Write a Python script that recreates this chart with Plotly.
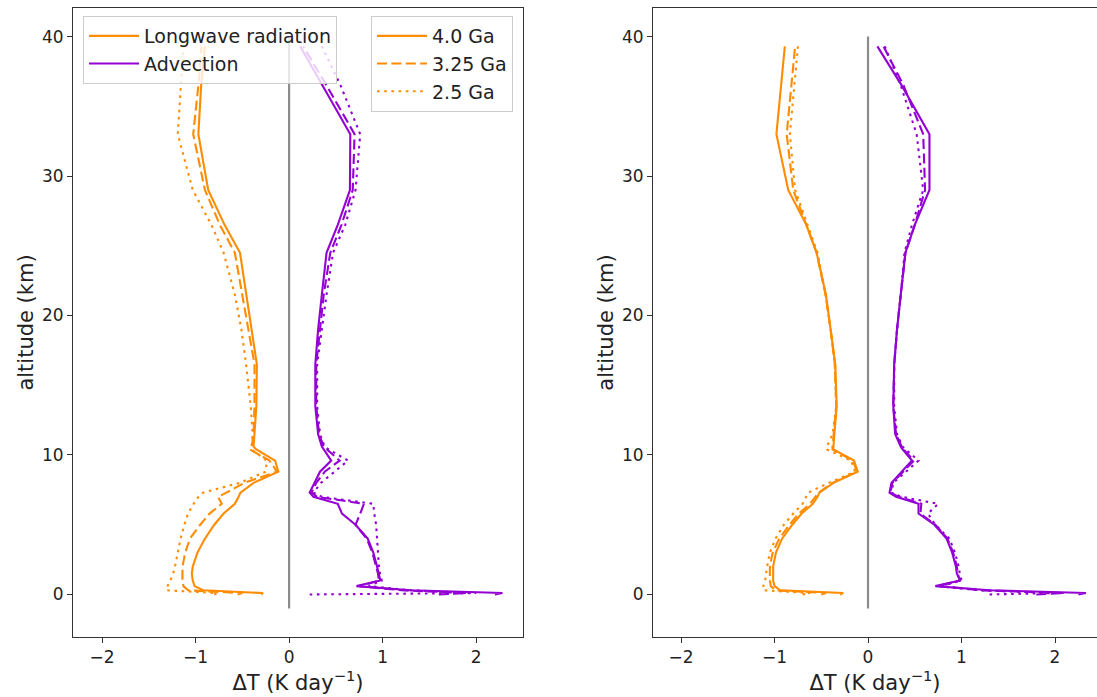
import plotly.graph_objects as go

# Altitude levels (km) shared by every profile
altitude = [0.0, 0.1, 0.3, 0.6, 1.0, 1.5, 2.0, 3.0, 4.0, 5.0, 5.8, 6.5, 7.0, 7.3,
            8.0, 8.8, 9.6, 10.4, 10.6, 11.5, 13.5, 16.5, 19.0, 21.5, 24.5, 26.5,
            29.0, 33.0, 36.5, 39.3]

# Left panel: heating-rate profiles (K/day)
lw_40_left = [-0.30, -0.28, -0.92, -1.01, -1.03, -1.04, -1.03, -0.98, -0.90, -0.80,
              -0.70, -0.58, -0.54, -0.52, -0.38, -0.115, -0.15, -0.35, -0.38, -0.37,
              -0.35, -0.345, -0.40, -0.46, -0.525, -0.69, -0.865, -0.97, -0.94, -0.90]
lw_325_left = [-0.55, -0.50, -1.08, -1.13, -1.14, -1.14, -1.14, -1.11, -1.06, -0.95,
               -0.85, -0.72, -0.76, -0.67, -0.48, -0.13, -0.21, -0.42, -0.40, -0.38,
               -0.37, -0.37, -0.436, -0.50, -0.58, -0.74, -0.90, -1.025, -0.97, -0.935]
lw_25_left = [-0.80, -0.77, -1.31, -1.30, -1.27, -1.24, -1.22, -1.19, -1.16, -1.12,
              -1.08, -1.02, -0.97, -0.92, -0.53, -0.25, -0.24, -0.40, -0.40, -0.39,
              -0.41, -0.46, -0.51, -0.58, -0.70, -0.83, -1.03, -1.19, -1.16, -1.13]
adv_40_left = [2.20, 2.28, 1.30, 0.72, 0.975, 0.96, 0.94, 0.90, 0.84, 0.71,
               0.565, 0.52, 0.26, 0.22, 0.27, 0.33, 0.45, 0.37, 0.35, 0.31,
               0.28, 0.28, 0.31, 0.35, 0.40, 0.52, 0.65, 0.654, 0.36, 0.118]
adv_325_left = [1.60, 1.90, 1.20, 0.75, 0.96, 0.95, 0.93, 0.89, 0.83, 0.71,
                0.76, 0.80, 0.30, 0.24, 0.29, 0.38, 0.54, 0.40, 0.37, 0.32,
                0.29, 0.29, 0.33, 0.37, 0.44, 0.56, 0.68, 0.70, 0.40, 0.15]
adv_25_left = [0.22, 2.00, 1.30, 0.85, 0.99, 0.97, 0.96, 0.95, 0.94, 0.93,
               0.91, 0.90, 0.35, 0.26, 0.34, 0.48, 0.63, 0.42, 0.38, 0.33,
               0.30, 0.30, 0.35, 0.40, 0.47, 0.60, 0.71, 0.76, 0.55, 0.35]

# Right panel: heating-rate profiles (K/day)
lw_40_right = [-0.30, -0.265, -0.94, -1.00, -1.015, -1.015, -1.015, -0.985, -0.92, -0.81,
               -0.71, -0.59, -0.54, -0.52, -0.37, -0.11, -0.15, -0.37, -0.37, -0.36,
               -0.335, -0.35, -0.40, -0.45, -0.55, -0.66, -0.854, -0.98, -0.93, -0.89]
lw_325_right = [-0.50, -0.45, -0.99, -1.04, -1.05, -1.05, -1.05, -1.02, -0.95, -0.84,
                -0.74, -0.62, -0.56, -0.53, -0.38, -0.12, -0.16, -0.38, -0.38, -0.37,
                -0.34, -0.355, -0.40, -0.455, -0.55, -0.66, -0.80, -0.87, -0.82, -0.78]
lw_25_right = [-0.70, -0.62, -1.12, -1.12, -1.10, -1.09, -1.08, -1.05, -0.99, -0.90,
               -0.80, -0.70, -0.66, -0.64, -0.42, -0.14, -0.18, -0.44, -0.44, -0.38,
               -0.34, -0.355, -0.40, -0.455, -0.54, -0.65, -0.78, -0.836, -0.79, -0.75]
adv_40_right = [2.25, 2.33, 1.30, 0.72, 0.985, 0.95, 0.94, 0.90, 0.84, 0.71,
                0.54, 0.54, 0.30, 0.23, 0.25, 0.36, 0.47, 0.37, 0.35, 0.29,
                0.27, 0.28, 0.31, 0.35, 0.40, 0.50, 0.657, 0.657, 0.36, 0.10]
adv_325_right = [1.80, 2.10, 1.20, 0.75, 0.98, 0.96, 0.95, 0.91, 0.85, 0.72,
                 0.56, 0.57, 0.33, 0.24, 0.26, 0.37, 0.49, 0.38, 0.36, 0.30,
                 0.27, 0.28, 0.31, 0.35, 0.40, 0.50, 0.61, 0.59, 0.38, 0.165]
adv_25_right = [1.30, 2.00, 1.20, 0.78, 1.00, 0.98, 0.97, 0.93, 0.87, 0.72,
                0.64, 0.75, 0.36, 0.25, 0.27, 0.40, 0.54, 0.40, 0.37, 0.31,
                0.28, 0.28, 0.31, 0.35, 0.39, 0.47, 0.59, 0.52, 0.35, 0.18]

# Zero reference line
zero_x = [0, 0]
zero_y = [-1, 40]

x_ticks = [-2, -1, 0, 1, 2]
y_ticks = [0, 10, 20, 30, 40]

ORANGE = "#FF8C00"
PURPLE = "#9400D3"
LW = 2.1
DASHES = {"4.0 Ga": "solid", "3.25 Ga": "10px,4.4px", "2.5 Ga": "2.6px,4.6px"}
FONT = "DejaVu Sans"
W, H = 1097, 697

panels = [
    ("x", "y", {"4.0 Ga": (lw_40_left, adv_40_left),
                "3.25 Ga": (lw_325_left, adv_325_left),
                "2.5 Ga": (lw_25_left, adv_25_left)}),
    ("x2", "y2", {"4.0 Ga": (lw_40_right, adv_40_right),
                  "3.25 Ga": (lw_325_right, adv_325_right),
                  "2.5 Ga": (lw_25_right, adv_25_right)}),
]

fig = go.Figure()

for xa, ya, series in panels:
    fig.add_trace(go.Scatter(x=zero_x, y=zero_y, mode="lines", xaxis=xa, yaxis=ya,
                             line=dict(color="#8c8c8c", width=2.2), showlegend=False,
                             hoverinfo="skip"))
    for age, (lw, adv) in series.items():
        for vals, color in ((lw, ORANGE), (adv, PURPLE)):
            fig.add_trace(go.Scatter(x=vals, y=altitude, mode="lines", xaxis=xa, yaxis=ya,
                                     line=dict(color=color, width=LW, dash=DASHES[age]),
                                     showlegend=False))

# Legend entries: process colours and epoch line styles
for name, color in (("Longwave radiation", ORANGE), ("Advection", PURPLE)):
    fig.add_trace(go.Scatter(x=[None], y=[None], mode="lines", name=name,
                             line=dict(color=color, width=LW), legend="legend"))
for age in ("4.0 Ga", "3.25 Ga", "2.5 Ga"):
    fig.add_trace(go.Scatter(x=[None], y=[None], mode="lines", name=age,
                             line=dict(color=ORANGE, width=LW, dash=DASHES[age]),
                             legend="legend2"))

axis_common = dict(showline=True, linecolor="#333", linewidth=1.1, ticks="outside",
                   ticklen=5, tickwidth=1, tickcolor="#333", showgrid=False,
                   zeroline=False, tickfont=dict(family=FONT, size=17, color="#222"))

y_dom = [1 - 637 / H, 1 - 8 / H]
legend_common = dict(yanchor="top", bgcolor="rgba(255,255,255,0.8)",
                     bordercolor="#cccccc", borderwidth=1,
                     font=dict(family=FONT, size=19, color="#222"), itemwidth=50)
fig.update_layout(
    width=W, height=H, margin=dict(l=0, r=0, t=0, b=0),
    paper_bgcolor="white", plot_bgcolor="white",
    font=dict(family=FONT, color="#222"),
    xaxis=dict(domain=[73 / W, 523 / W], range=[-2.31, 2.50], tickvals=x_ticks,
               mirror=True, anchor="y",
               title=dict(text="ΔT (K day<sup>−1</sup>)", font=dict(size=21), standoff=6),
               **axis_common),
    yaxis=dict(domain=y_dom, range=[-3.05, 42.05], tickvals=y_ticks, mirror=True,
               anchor="x",
               title=dict(text="altitude (km)", font=dict(size=21), standoff=2),
               **axis_common),
    xaxis2=dict(domain=[653 / W, 1.0], range=[-2.30, 2.449], tickvals=x_ticks,
                mirror=True, anchor="y2",
                title=dict(text="ΔT (K day<sup>−1</sup>)", font=dict(size=21), standoff=6),
                **axis_common),
    yaxis2=dict(domain=y_dom, range=[-3.05, 42.05], tickvals=y_ticks, mirror=False,
                anchor="x2",
                title=dict(text="altitude (km)", font=dict(size=21), standoff=2),
                **axis_common),
    legend=dict(x=83 / W, y=1 - 16 / H, xanchor="left", **legend_common),
    legend2=dict(x=513 / W, y=1 - 16 / H, xanchor="right", **legend_common),
)

fig.write_html("out.html")
